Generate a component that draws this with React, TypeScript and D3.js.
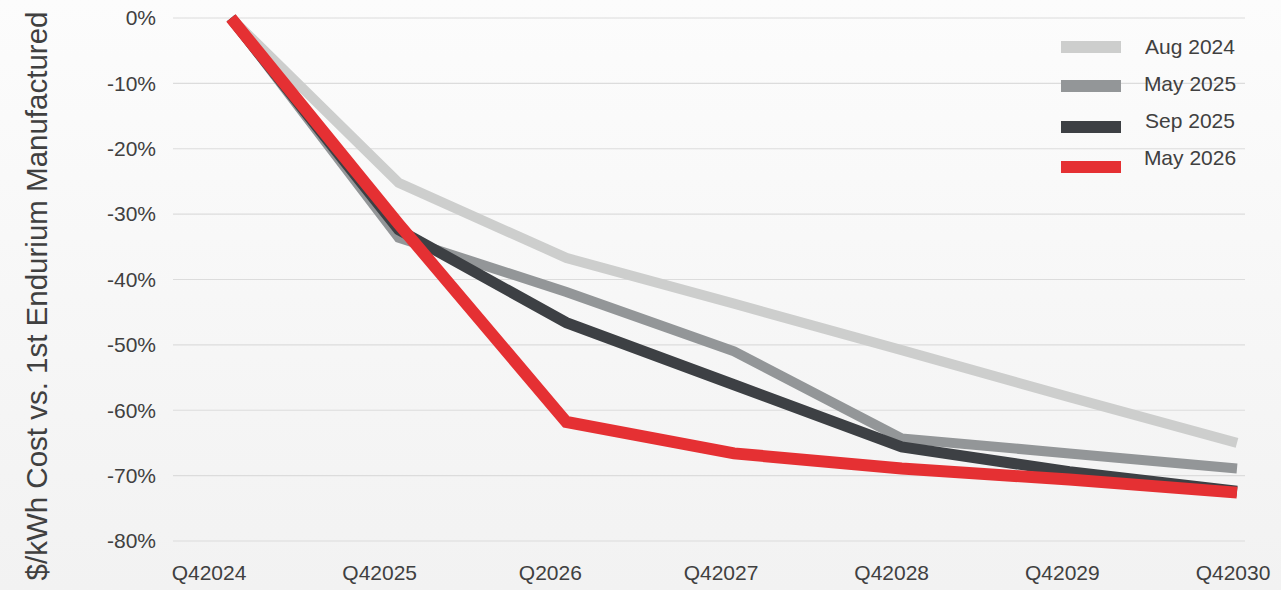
import { useEffect, useRef } from 'react';
import * as d3 from 'd3';

const WIDTH = 1281;
const HEIGHT = 590;

const quarters = ['Q42024', 'Q42025', 'Q2026', 'Q42027', 'Q42028', 'Q42029', 'Q42030'];
const yTicks = [0, -10, -20, -30, -40, -50, -60, -70, -80];

const aug2024 = [0, -25.2, -36.7, -43.7, -50.8, -58.0, -65.0];
const may2025 = [0, -33.6, -41.9, -51.0, -64.3, -66.6, -68.9];
const sep2025 = [0, -32.4, -46.6, -56.1, -65.6, -69.4, -72.4];
const may2026 = [0, -31.5, -61.8, -66.6, -68.9, -70.6, -72.6];

const seriesNames = ['Aug 2024', 'May 2025', 'Sep 2025', 'May 2026'];
const seriesValues = [aug2024, may2025, sep2025, may2026];
const colors = ['#cdcecd', '#939698', '#3d4044', '#e53033'];
const widths = [10, 10, 11, 12];

export default function App() {
  const svgRef = useRef<SVGSVGElement>(null);

  useEffect(() => {
    const svg = d3.select(svgRef.current);
    svg.selectAll('*').remove();

    // background gradient
    const defs = svg.append('defs');
    const grad = defs.append('linearGradient').attr('id', 'bg').attr('x1', 0).attr('y1', 0).attr('x2', 0).attr('y2', 1);
    grad.append('stop').attr('offset', '0%').attr('stop-color', '#fcfcfc');
    grad.append('stop').attr('offset', '100%').attr('stop-color', '#f2f2f2');
    svg.append('rect').attr('width', WIDTH).attr('height', HEIGHT).attr('fill', 'url(#bg)');

    const x = d3.scalePoint<string>().domain(quarters).range([231, 1237]);
    // labels sit slightly left of the data points in the original
    const xLabel = d3.scalePoint<string>().domain(quarters).range([209, 1233]);
    const y = d3.scaleLinear().domain([-80, 0]).range([541, 18]);

    // Grid
    svg.append('g')
      .selectAll('line')
      .data(yTicks)
      .join('line')
      .attr('x1', 173)
      .attr('x2', 1245)
      .attr('y1', (d) => y(d))
      .attr('y2', (d) => y(d))
      .attr('stroke', '#dcdcdc')
      .attr('stroke-width', 1.2);

    const font = 'Liberation Sans, Arial, sans-serif';

    // Y tick labels
    svg.append('g')
      .selectAll('text')
      .data(yTicks)
      .join('text')
      .attr('x', 156)
      .attr('y', (d) => y(d))
      .attr('dy', '0.35em')
      .attr('text-anchor', 'end')
      .attr('font-family', font)
      .attr('font-size', 21)
      .attr('fill', '#404040')
      .text((d) => `${d}%`);

    // X labels
    svg.append('g')
      .selectAll('text')
      .data(quarters)
      .join('text')
      .attr('x', (d) => xLabel(d)!)
      .attr('y', 580)
      .attr('text-anchor', 'middle')
      .attr('font-family', font)
      .attr('font-size', 21)
      .attr('fill', '#404040')
      .text((d) => d);

    // Y axis title
    svg.append('text')
      .attr('transform', 'translate(47,296) rotate(-90)')
      .attr('text-anchor', 'middle')
      .attr('font-family', font)
      .attr('font-size', 29.5)
      .attr('fill', '#404040')
      .text('$/kWh Cost vs. 1st Endurium Manufactured');

    // Lines
    const line = d3.line<number>()
      .x((_, i) => x(quarters[i])!)
      .y((d) => y(d));

    seriesValues.forEach((vals, i) => {
      svg.append('path')
        .datum(vals)
        .attr('d', line)
        .attr('fill', 'none')
        .attr('stroke', colors[i])
        .attr('stroke-width', widths[i])
        .attr('stroke-linejoin', 'miter');
    });

    // Legend
    const legendY = [47, 86, 127, 167];
    const labelY = [47, 84, 121, 158];
    const lg = svg.append('g');
    seriesNames.forEach((name, i) => {
      lg.append('rect')
        .attr('x', 1061)
        .attr('y', legendY[i] - 6)
        .attr('width', 60)
        .attr('height', 12)
        .attr('fill', colors[i]);
      lg.append('text')
        .attr('x', 1190)
        .attr('y', labelY[i])
        .attr('dy', '0.35em')
        .attr('text-anchor', 'middle')
        .attr('font-family', font)
        .attr('font-size', 21)
        .attr('fill', '#404040')
        .text(name);
    });
  }, []);

  return (
    <svg
      ref={svgRef}
      width={WIDTH}
      height={HEIGHT}
      viewBox={`0 0 ${WIDTH} ${HEIGHT}`}
      style={{ position: 'absolute', left: 0, top: 0, display: 'block' }}
    />
  );
}
